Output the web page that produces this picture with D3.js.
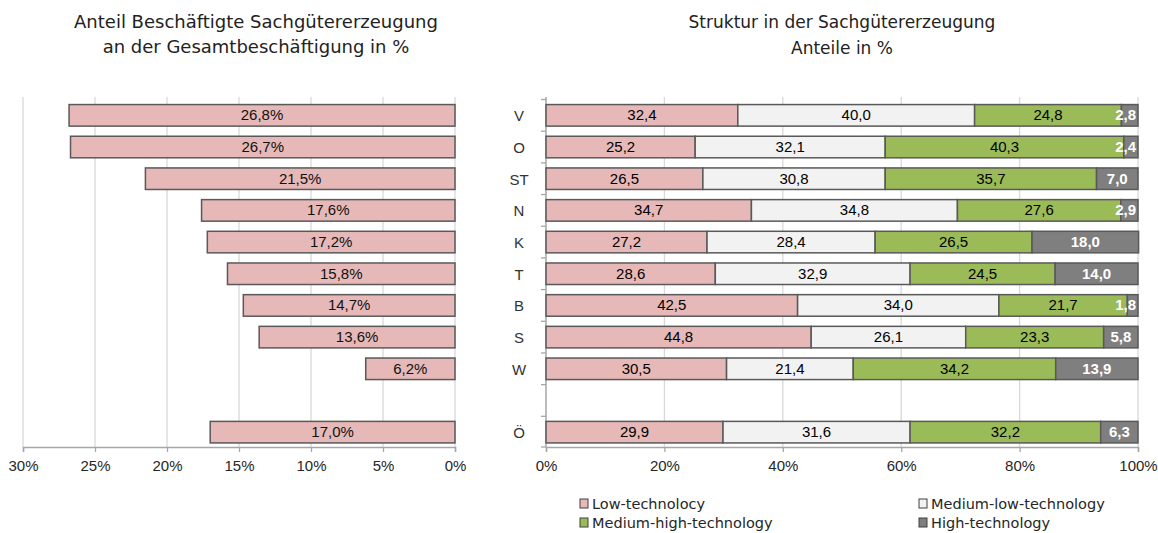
<!DOCTYPE html>
<html><head><meta charset="utf-8">
<script src="https://cdn.jsdelivr.net/npm/d3@7"></script>
<style>
body{margin:0;background:#fff;}
text{font-family:"Liberation Sans",Arial,sans-serif;}
.wide{font-family:"DejaVu Sans",sans-serif;}
</style></head>
<body><svg id="c" width="1158" height="533"></svg>
<script>
const regions = ["V","O","ST","N","K","T","B","S","W"," ","Ö"];
const shareTotal = [26.8,26.7,21.5,17.6,17.2,15.8,14.7,13.6,6.2,null,17.0];
const seriesNames = ["Low-technolocy","Medium-low-technology","Medium-high-technology","High-technology"];
const lowTech     = [32.4,25.2,26.5,34.7,27.2,28.6,42.5,44.8,30.5,null,29.9];
const medLowTech  = [40.0,32.1,30.8,34.8,28.4,32.9,34.0,26.1,21.4,null,31.6];
const medHighTech = [24.8,40.3,35.7,27.6,26.5,24.5,21.7,23.3,34.2,null,32.2];
const highTech    = [2.8,2.4,7.0,2.9,18.0,14.0,1.8,5.8,13.9,null,6.3];
const leftTicks = [30,25,20,15,10,5,0];
const rightTicks = [0,20,40,60,80,100];
const colors = ["#E6B9B8","#F2F2F2","#9BBB59","#7F7F7F"];
const labelColors = ["#000","#000","#000","#fff"];

const svg = d3.select("#c");
const fmt = v => v.toFixed(1).replace(".", ",");
const y = d3.scaleBand().domain(regions).range([99.5,448]).paddingInner(0.32).paddingOuter(0.16);

// ---------- Left panel ----------
const xl = d3.scaleLinear().domain([0,30]).range([455,23]);
const gl = svg.append("g");
gl.selectAll("line.grid").data(leftTicks).join("line")
  .attr("x1",d=>xl(d)).attr("x2",d=>xl(d)).attr("y1",97).attr("y2",447)
  .attr("stroke","#D9D9D9").attr("stroke-width",1.3);
const axL = gl.append("g").attr("transform","translate(0,447)")
  .call(d3.axisBottom(xl).tickValues(leftTicks).tickSize(5).tickPadding(8).tickFormat(d=>d+"%"));
axL.select(".domain").attr("stroke","#A6A6A6").attr("stroke-width",1.5);
axL.selectAll(".tick line").attr("stroke","#A6A6A6").attr("stroke-width",1.3);
axL.selectAll("text").attr("font-size",15).attr("fill","#262626");
const ldata = regions.map((r,i)=>({r,v:shareTotal[i]})).filter(d=>d.v!=null);
gl.selectAll("rect.bar").data(ldata).join("rect")
  .attr("x",d=>xl(d.v)).attr("width",d=>xl(0)-xl(d.v))
  .attr("y",d=>y(d.r)).attr("height",y.bandwidth())
  .attr("fill","#E6B9B8").attr("stroke","#595959").attr("stroke-width",1.5);
gl.selectAll("text.val").data(ldata).join("text")
  .attr("x",d=>(xl(d.v)+xl(0))/2).attr("y",d=>y(d.r)+y.bandwidth()/2+5)
  .attr("text-anchor","middle").attr("font-size",15).attr("fill","#111")
  .text(d=>fmt(d.v)+"%");
gl.append("text").attr("class","wide").attr("x",256).attr("y",28).attr("text-anchor","middle").attr("font-size",18).attr("fill","#222")
  .text("Anteil Beschäftigte Sachgütererzeugung");
gl.append("text").attr("class","wide").attr("x",256).attr("y",53).attr("text-anchor","middle").attr("font-size",18).attr("fill","#222")
  .text("an der Gesamtbeschäftigung in %");

// ---------- Right panel ----------
const xr = d3.scaleLinear().domain([0,100]).range([546,1138]);
const gr = svg.append("g");
gr.selectAll("line.grid").data(rightTicks.slice(1)).join("line")
  .attr("x1",d=>xr(d)).attr("x2",d=>xr(d)).attr("y1",97).attr("y2",447)
  .attr("stroke","#D9D9D9").attr("stroke-width",1.3);
const axR = gr.append("g").attr("transform","translate(0,447)")
  .call(d3.axisBottom(xr).tickValues(rightTicks).tickSize(5).tickPadding(8).tickFormat(d=>d+"%"));
axR.select(".domain").attr("stroke","#A6A6A6").attr("stroke-width",1.5);
axR.selectAll(".tick line").attr("stroke","#A6A6A6").attr("stroke-width",1.3);
axR.selectAll("text").attr("font-size",15).attr("fill","#262626");
const bounds = regions.map(r=>y(r)-y.step()*y.paddingInner()/2).concat([447]);
gr.append("line").attr("x1",546).attr("x2",546).attr("y1",97).attr("y2",447)
  .attr("stroke","#A6A6A6").attr("stroke-width",1.5);
gr.selectAll("line.yt").data(bounds).join("line")
  .attr("x1",541).attr("x2",546).attr("y1",d=>d).attr("y2",d=>d)
  .attr("stroke","#A6A6A6").attr("stroke-width",1.3);
gr.selectAll("text.cat").data(regions).join("text")
  .attr("x",519).attr("y",r=>y(r)+y.bandwidth()/2+6).attr("text-anchor","middle")
  .attr("font-size",15).attr("fill","#333").text(r=>r);

const table = regions.map((r,i)=>({r,vals:[lowTech[i],medLowTech[i],medHighTech[i],highTech[i]]})).filter(d=>d.vals[0]!=null);
const segs = [];
table.forEach(d=>{let acc=0;d.vals.forEach((v,k)=>{segs.push({r:d.r,k,v,x0:acc,x1:acc+v});acc+=v;});});
gr.selectAll("rect.seg").data(segs).join("rect")
  .attr("x",d=>xr(d.x0)).attr("width",d=>xr(d.x1)-xr(d.x0))
  .attr("y",d=>y(d.r)).attr("height",y.bandwidth())
  .attr("fill",d=>colors[d.k]).attr("stroke","#595959").attr("stroke-width",1.5);
gr.selectAll("text.seg").data(segs).join("text")
  .attr("x",d=>(xr(d.x0)+xr(d.x1))/2).attr("y",d=>y(d.r)+y.bandwidth()/2+5)
  .attr("text-anchor","middle").attr("font-size",15)
  .attr("font-weight",d=>d.k===3?"bold":"normal")
  .attr("fill",d=>labelColors[d.k]).text(d=>fmt(d.v))
  .each(function(d){
    const w = this.getComputedTextLength();
    const cx = (xr(d.x0)+xr(d.x1))/2;
    const maxC = xr(100) - 2 - w/2;
    if (cx > maxC) d3.select(this).attr("x", maxC);
  });

gr.append("text").attr("class","wide").attr("x",842).attr("y",28).attr("text-anchor","middle").attr("font-size",17).attr("fill","#222")
  .text("Struktur in der Sachgütererzeugung");
gr.append("text").attr("class","wide").attr("x",842).attr("y",54).attr("text-anchor","middle").attr("font-size",17).attr("fill","#222")
  .text("Anteile in %");

// legend
const legPos = [[580,509],[919,509],[580,528],[919,528]];
const lg = gr.selectAll("g.leg").data(seriesNames).join("g")
  .attr("transform",(d,i)=>`translate(${legPos[i][0]},${legPos[i][1]})`);
lg.append("rect").attr("x",0).attr("y",-10).attr("width",8).attr("height",9)
  .attr("fill",(d,i)=>colors[i]).attr("stroke","#404040").attr("stroke-width",1);
lg.append("text").attr("class","wide").attr("x",12).attr("y",0).attr("font-size",14.5).attr("fill","#262626").text(d=>d);
</script></body></html>
